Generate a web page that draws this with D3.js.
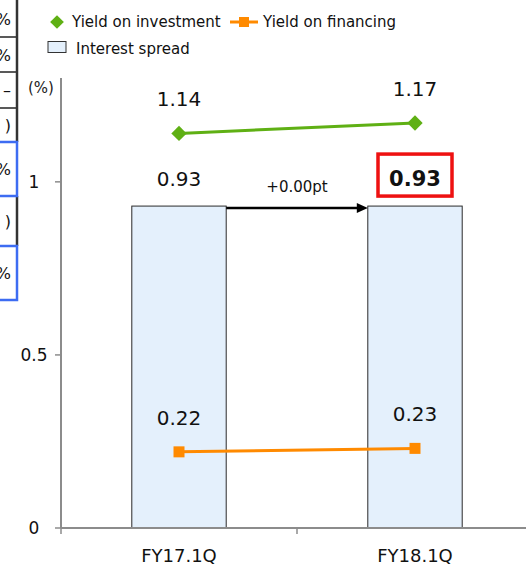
<!DOCTYPE html>
<html>
<head>
<meta charset="utf-8">
<script src="https://cdn.jsdelivr.net/npm/d3@7"></script>
<style>
  html, body { margin: 0; padding: 0; background: #fff; }
  svg { display: block; font-family: "DejaVu Sans", Verdana, sans-serif; }
</style>
</head>
<body>
<svg id="chart" width="526" height="565"></svg>
<script>
// Quarterly yields and interest spread (%)
const categories = ["FY17.1Q", "FY18.1Q"];
const yieldOnInvestment = [1.14, 1.17];
const yieldOnFinancing = [0.22, 0.23];
const interestSpread = [0.93, 0.93];
const spreadChange = "+0.00pt";
const yTicks = [0, 0.5, 1];

// Edge of the neighbouring table (rows of the summary sheet)
const tableRows = [
  { text: "%", y0: 0, y1: 37 },
  { text: "%", y0: 37, y1: 72 },
  { text: "–", y0: 72, y1: 108 },
  { text: ")", y0: 108, y1: 142 },
  { text: "%", y0: 142, y1: 196, boxed: true },
  { text: ")", y0: 196, y1: 246 },
  { text: "%", y0: 246, y1: 300, boxed: true }
];

const svg = d3.select("#chart");
const plot = { left: 61, right: 533, top: 78, bottom: 528 };

const x = d3.scaleBand().domain(categories).range([plot.left, plot.right]).padding(0);
const y = d3.scaleLinear().domain([0, 1.3]).range([plot.bottom, plot.top]);
const cx = c => x(c) + x.bandwidth() / 2;
const barW = x.bandwidth() * 0.4;

const GREEN = "#5fb014", ORANGE = "#ff8a00", AXIS = "#8c8c8c";

// ---- table edge ----
const table = svg.append("g");
tableRows.forEach(r => {
  if (!r.boxed) {
    table.append("line").attr("x1", 0).attr("x2", 17).attr("y1", r.y1).attr("y2", r.y1)
      .attr("stroke", "#222").attr("stroke-width", 1.5);
    table.append("line").attr("x1", 17).attr("x2", 17).attr("y1", r.y0).attr("y2", r.y1)
      .attr("stroke", "#333").attr("stroke-width", 2.5);
  }
  table.append("text").attr("x", 11).attr("y", (r.y0 + r.y1) / 2 + 6)
    .attr("text-anchor", "end").attr("font-size", 16).attr("fill", "#111").text(r.text);
});
tableRows.filter(r => r.boxed).forEach(r => {
  table.append("rect").attr("x", -5).attr("y", r.y0).attr("width", 22).attr("height", r.y1 - r.y0)
    .attr("fill", "none").attr("stroke", "#3d6cf2").attr("stroke-width", 2.5);
});

// ---- legend ----
const legend = svg.append("g").attr("font-size", 15).attr("fill", "#111");
legend.append("path").attr("d", d3.symbol(d3.symbolDiamond2, 120)())
  .attr("transform", "translate(57,22)").attr("fill", GREEN);
legend.append("text").attr("x", 72).attr("y", 27).text("Yield on investment");
legend.append("line").attr("x1", 230).attr("x2", 258).attr("y1", 22).attr("y2", 22)
  .attr("stroke", ORANGE).attr("stroke-width", 3);
legend.append("rect").attr("x", 239).attr("y", 17).attr("width", 10).attr("height", 10).attr("fill", ORANGE);
legend.append("text").attr("x", 263).attr("y", 27).text("Yield on financing");
legend.append("rect").attr("x", 48).attr("y", 41.5).attr("width", 18).attr("height", 11)
  .attr("fill", "#e4f0fc").attr("stroke", "#333").attr("stroke-width", 1);
legend.append("text").attr("x", 76).attr("y", 54).text("Interest spread");

// ---- axes ----
const yAxis = svg.append("g");
yAxis.append("line").attr("x1", plot.left).attr("x2", plot.left).attr("y1", plot.top).attr("y2", plot.bottom)
  .attr("stroke", AXIS).attr("stroke-width", 2);
yTicks.forEach(t => {
  yAxis.append("line").attr("x1", plot.left - 6).attr("x2", plot.left).attr("y1", y(t)).attr("y2", y(t))
    .attr("stroke", AXIS).attr("stroke-width", 1.5);
  yAxis.append("text").attr("x", 34).attr("y", y(t) + 6).attr("text-anchor", "middle")
    .attr("font-size", 17).attr("fill", "#111").text(d3.format("~g")(t));
});
svg.append("text").attr("x", 41).attr("y", 93).attr("text-anchor", "middle")
  .attr("font-size", 15).attr("fill", "#222").text("(%)");

// ---- bars ----
svg.append("g").selectAll("rect").data(categories).join("rect")
  .attr("x", c => cx(c) - barW / 2)
  .attr("y", (c, i) => y(interestSpread[i]))
  .attr("width", barW)
  .attr("height", (c, i) => y(0) - y(interestSpread[i]))
  .attr("fill", "#e4f0fc").attr("stroke", "#2a2a2a").attr("stroke-width", 1);

const xAxis = svg.append("g");
xAxis.append("line").attr("x1", plot.left).attr("x2", plot.right).attr("y1", plot.bottom).attr("y2", plot.bottom)
  .attr("stroke", AXIS).attr("stroke-width", 2);
[plot.left, x(categories[1]), plot.right].forEach(px => {
  xAxis.append("line").attr("x1", px).attr("x2", px).attr("y1", plot.bottom).attr("y2", plot.bottom + 6)
    .attr("stroke", AXIS).attr("stroke-width", 1.5);
});
xAxis.selectAll("text.cat").data(categories).join("text").attr("class", "cat")
  .attr("x", c => cx(c)).attr("y", 562).attr("text-anchor", "middle")
  .attr("font-size", 18).attr("fill", "#111").text(c => c);

// ---- lines ----
function series(values, color, marker) {
  const pts = categories.map((c, i) => [cx(c), y(values[i])]);
  svg.append("path").attr("d", d3.line()(pts)).attr("fill", "none")
    .attr("stroke", color).attr("stroke-width", 3);
  pts.forEach(p => {
    if (marker === "diamond") {
      svg.append("path").attr("d", d3.symbol(d3.symbolDiamond2, 150)())
        .attr("transform", `translate(${p[0]},${p[1]})`).attr("fill", color);
    } else {
      svg.append("rect").attr("x", p[0] - 5.5).attr("y", p[1] - 5.5).attr("width", 11).attr("height", 11)
        .attr("fill", color);
    }
  });
  categories.forEach((c, i) => {
    svg.append("text").attr("x", cx(c)).attr("y", y(values[i]) - 27).attr("text-anchor", "middle")
      .attr("font-size", 20).attr("fill", "#111").text(values[i].toFixed(2));
  });
}
series(yieldOnInvestment, GREEN, "diamond");
series(yieldOnFinancing, ORANGE, "square");

// ---- spread labels ----
const c0 = categories[0], c1 = categories[1];
svg.append("text").attr("x", cx(c0)).attr("y", y(interestSpread[0]) - 20).attr("text-anchor", "middle")
  .attr("font-size", 20).attr("fill", "#111").text(interestSpread[0].toFixed(2));
const hy = y(interestSpread[1]) - 20;
svg.append("rect").attr("x", cx(c1) - 37).attr("y", hy - 32).attr("width", 74).attr("height", 42)
  .attr("fill", "none").attr("stroke", "#ee1111").attr("stroke-width", 3.5);
svg.append("text").attr("x", cx(c1)).attr("y", hy).attr("text-anchor", "middle")
  .attr("font-size", 21).attr("font-weight", "bold").attr("fill", "#111").text(interestSpread[1].toFixed(2));

// ---- change arrow ----
const ax0 = cx(c0) + barW / 2, ax1 = cx(c1) - barW / 2;
const ay = y(interestSpread[0]) + 2;
svg.append("line").attr("x1", ax0).attr("x2", ax1 - 9).attr("y1", ay).attr("y2", ay)
  .attr("stroke", "#000").attr("stroke-width", 2.5);
svg.append("path").attr("d", `M${ax1},${ay} L${ax1 - 11},${ay - 5} L${ax1 - 11},${ay + 5} Z`).attr("fill", "#000");
svg.append("text").attr("x", (ax0 + ax1) / 2).attr("y", ay - 16).attr("text-anchor", "middle")
  .attr("font-size", 15).attr("fill", "#111").text(spreadChange);
</script>
</body>
</html>
